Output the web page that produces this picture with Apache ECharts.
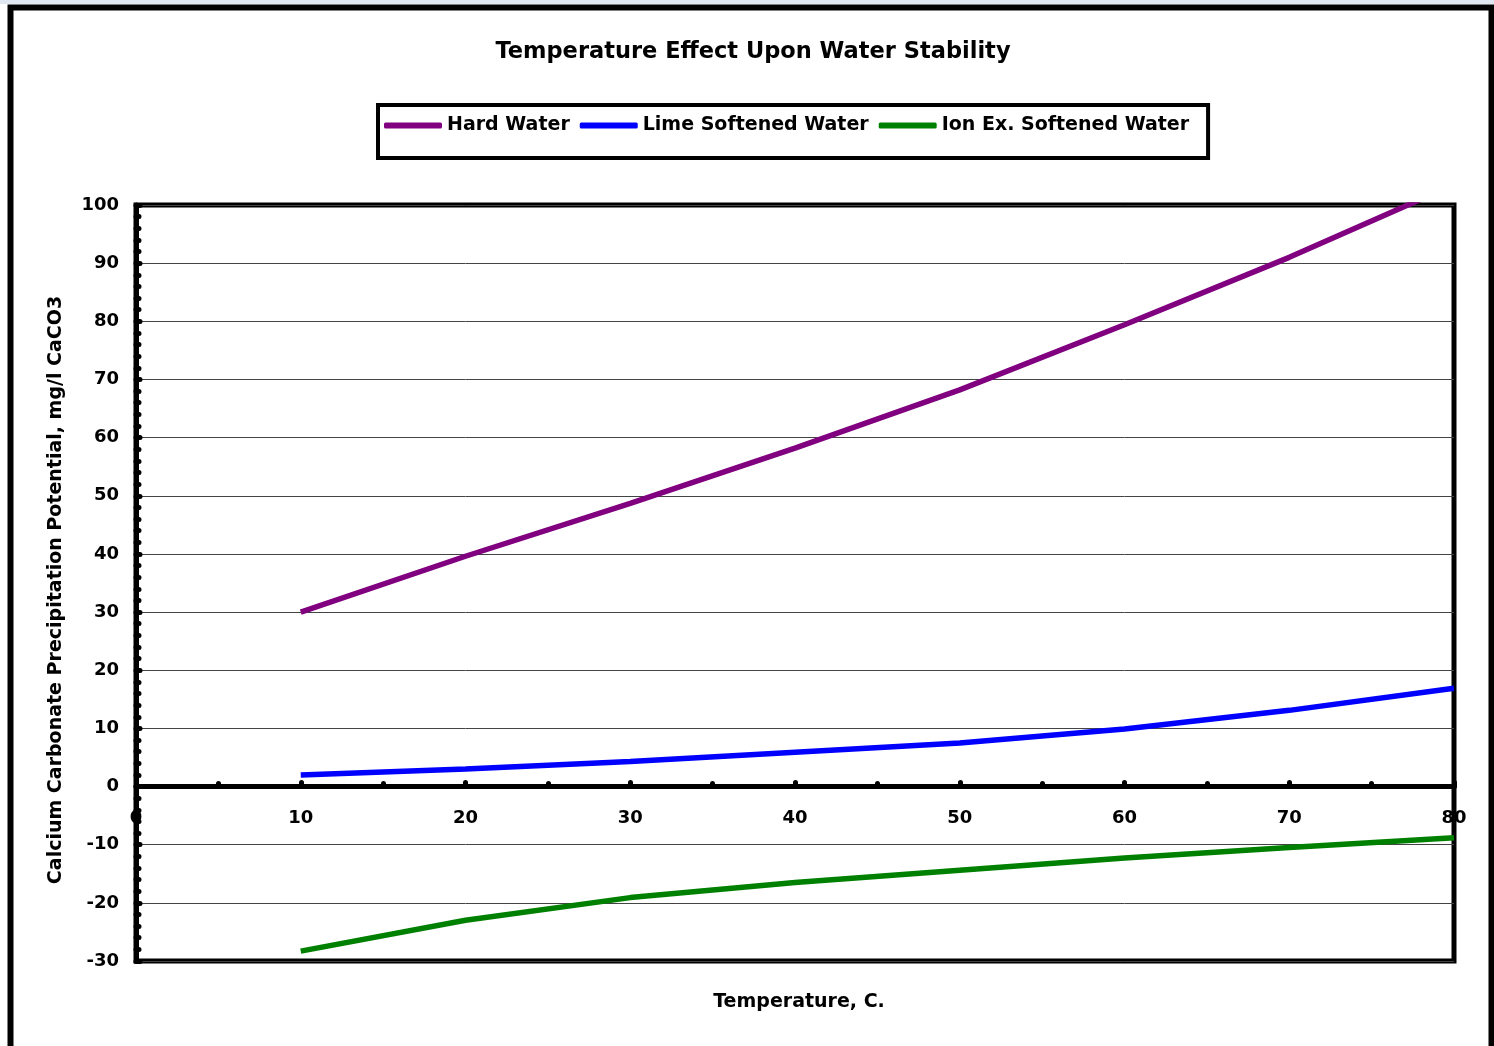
<!DOCTYPE html>
<html>
<head>
<meta charset="utf-8">
<style>
html,body{margin:0;padding:0;background:#fff;}
#chart{width:1494px;height:1046px;}
</style>
<script src="https://cdn.jsdelivr.net/npm/echarts@6/dist/echarts.min.js"></script>
</head>
<body>
<div id="chart"></div>
<script>
const temperatures = [10, 20, 30, 40, 50, 60, 70, 80];
const hardWater = [30, 39.6, 48.7, 58.2, 68.2, 79.4, 91, 103.5];
const limeSoftened = [2, 3, 4.3, 5.9, 7.5, 9.9, 13.1, 16.9];
const ionExSoftened = [-28.3, -23, -19.1, -16.5, -14.4, -12.3, -10.5, -8.8];
const seriesNames = ['Hard Water', 'Lime Softened Water', 'Ion Ex. Softened Water'];
const seriesColors = ['#800080', '#0000FF', '#008000'];

const FONT = 'DejaVu Sans';
const pair = (xs, ys) => xs.map((x, i) => [x, ys[i]]);
const allValues = [hardWater, limeSoftened, ionExSoftened];

const chart = echarts.init(document.getElementById('chart'), null, {renderer: 'canvas'});
chart.setOption({
  backgroundColor: '#ffffff',
  animation: false,
  title: [{
    text: 'Temperature Effect Upon Water Stability',
    left: 748,
    textAlign: 'center',
    top: 36,
    textStyle: {fontFamily: FONT, fontWeight: 'bold', fontSize: 22.5, color: '#000'}
  }, {
    text: 'Temperature, C.',
    left: 794,
    textAlign: 'center',
    top: 988,
    textStyle: {fontFamily: FONT, fontWeight: 'bold', fontSize: 19, color: '#000'}
  }],
  legend: {
    left: 378,
    top: 105,
    padding: [11, 19, 23, 6],
    itemGap: 10,
    itemWidth: 58,
    itemHeight: 6,
    icon: 'roundRect',
    borderColor: '#000',
    borderWidth: 4,
    textStyle: {fontFamily: FONT, fontWeight: 'bold', fontSize: 19, color: '#000'},
    data: seriesNames
  },
  graphic: [{
    type: 'rect',
    shape: {x: 0, y: 0, width: 1494, height: 4},
    style: {fill: '#dfe7f1'},
    silent: true
  }, {
    type: 'rect',
    shape: {x: 10.5, y: 7.5, width: 1481, height: 1100},
    style: {fill: 'none', stroke: '#000', lineWidth: 6},
    silent: true
  }],
  grid: {
    left: 136, right: 40, top: 205, bottom: 85,
    show: true, borderColor: '#000', borderWidth: 5, backgroundColor: 'transparent'
  },
  xAxis: {
    type: 'value',
    position: 'bottom',
    offset: -174.5,
    min: 0, max: 80, interval: 10,
    axisLine: {show: true, onZero: false, lineStyle: {color: '#000', width: 5}},
    axisTick: {show: true, inside: true, length: 4, lineStyle: {color: '#000', width: 5, cap: 'round'}},
    minorTick: {show: true, splitNumber: 2, length: 3, lineStyle: {color: '#000', width: 5, cap: 'round'}},
    axisLabel: {margin: 23, fontFamily: FONT, fontWeight: 'bold', fontSize: 18, color: '#000', showMinLabel: true, showMaxLabel: true},
    splitLine: {show: false}
  },
  yAxis: {
    type: 'value',
    min: -30, max: 100, interval: 10,
    name: 'Calcium Carbonate Precipitation Potential, mg/l CaCO3',
    nameLocation: 'middle',
    nameGap: 70,
    nameTextStyle: {fontFamily: FONT, fontWeight: 'bold', fontSize: 19, color: '#000', padding: [0, 14, 0, 0]},
    axisLine: {show: true, lineStyle: {color: '#000', width: 5}},
    axisTick: {show: true, inside: true, length: 4, lineStyle: {color: '#000', width: 5, cap: 'round'}},
    minorTick: {show: true, splitNumber: 5, length: 3, lineStyle: {color: '#000', width: 5, cap: 'round'}},
    axisLabel: {margin: 17, fontFamily: FONT, fontWeight: 'bold', fontSize: 18, color: '#000'},
    splitLine: {show: true, lineStyle: {color: '#444', width: 1}}
  },
  series: seriesNames.map((name, i) => ({
    name: name,
    type: 'line',
    data: pair(temperatures, allValues[i]),
    showSymbol: false,
    symbol: 'none',
    clip: true,
    color: seriesColors[i],
    lineStyle: {color: seriesColors[i], width: 5.5},
    z: 3
  }))
});
</script>
</body>
</html>
